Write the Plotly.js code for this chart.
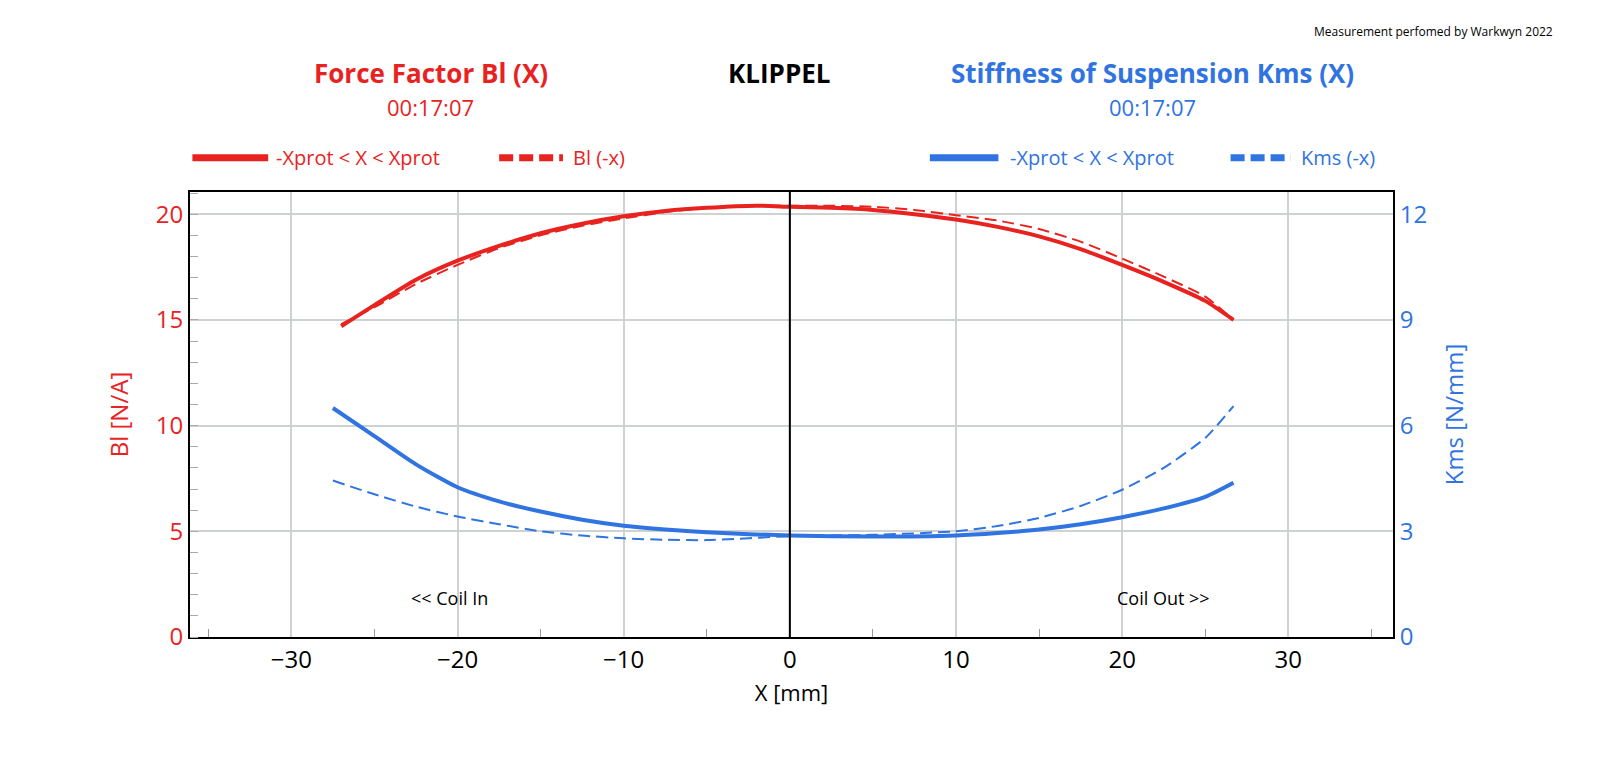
<!DOCTYPE html>
<html><head><meta charset="utf-8">
<script src="https://cdn.plot.ly/plotly-3.0.1.min.js"></script>
<style>body{margin:0;background:#fff}#chart{width:1600px;height:779px}</style>
</head><body><div id="chart"></div>
<script>
// Bl(x), N/A
var blX = [-27, -25, -22.5, -20, -17.5, -15, -12.5, -10, -7.5, -5, -2, 0, 2.5, 5, 7.5, 10, 12.5, 15, 17.5, 20, 22.5, 25, 26.7];
var blSolid = [14.7, 15.7, 16.9, 17.8, 18.5, 19.1, 19.55, 19.9, 20.15, 20.3, 20.4, 20.35, 20.3, 20.2, 20.0, 19.75, 19.4, 18.95, 18.35, 17.6, 16.8, 15.9, 15.0];
var blDash = [14.8, 15.6, 16.7, 17.6, 18.4, 19.0, 19.45, 19.8, 20.1, 20.3, 20.4, 20.4, 20.4, 20.35, 20.2, 19.95, 19.7, 19.3, 18.7, 17.9, 17.05, 16.1, 15.0];
// Kms(x), N/mm
var kmsX = [-27.5, -25, -22.5, -20, -17.5, -15, -12.5, -10, -7.5, -5, 0, 5, 10, 12.5, 15, 17.5, 20, 22.5, 25, 26.7];
var kmsSolid = [6.5, 5.7, 4.9, 4.25, 3.85, 3.56, 3.33, 3.16, 3.05, 2.97, 2.88, 2.85, 2.88, 2.95, 3.05, 3.2, 3.4, 3.65, 3.98, 4.38];
var kmsDash = [4.44, 4.05, 3.7, 3.42, 3.2, 3.0, 2.88, 2.8, 2.76, 2.75, 2.86, 2.9, 3.0, 3.15, 3.38, 3.72, 4.18, 4.8, 5.65, 6.55];

var red = '#e8231f', blue = '#2f74e0';
var data = [
  {x: blX, y: blSolid, mode: 'lines', line: {color: red, width: 4, shape: 'spline', smoothing: 0.6}},
  {x: blX, y: blDash, mode: 'lines', line: {color: red, width: 2, dash: '12px,6px', shape: 'spline', smoothing: 0.6}},
  {x: kmsX, y: kmsSolid, yaxis: 'y2', mode: 'lines', line: {color: blue, width: 4, shape: 'spline', smoothing: 0.6}},
  {x: kmsX, y: kmsDash, yaxis: 'y2', mode: 'lines', line: {color: blue, width: 2, dash: '12px,6px', shape: 'spline', smoothing: 0.6}}
];
var f = 'Open Sans, sans-serif';
function note(x, y, text, size, color, anchor) {
  return {xref: 'paper', yref: 'paper', x: x, y: y, xanchor: anchor || 'center', yanchor: 'middle',
    text: text, showarrow: false, font: {size: size, color: color}};
}
var layout = {
  width: 1600, height: 779, showlegend: false,
  paper_bgcolor: '#fff', plot_bgcolor: '#fff',
  margin: {l: 190, r: 207, t: 192, b: 142},
  font: {family: f},
  xaxis: {range: [-36.1, 36.3], tickvals: [-30, -20, -10, 0, 10, 20, 30], showgrid: true, gridcolor: '#cfd2d2', gridwidth: 2,
    zeroline: false, showline: true, linecolor: '#000', linewidth: 2, mirror: true, ticks: '', tickfont: {size: 24, color: '#000'},
    minor: {tickvals: [-35, -25, -15, -5, 5, 15, 25, 35], ticks: 'inside', ticklen: 8, tickcolor: '#999', showgrid: false},
    title: {text: 'X [mm]', font: {size: 22, color: '#000'}, standoff: 12}},
  yaxis: {range: [0, 21.05], tickvals: [0, 5, 10, 15, 20], showgrid: true, gridcolor: '#cfd2d2', gridwidth: 2, zeroline: false,
    showline: true, linecolor: '#000', linewidth: 2, ticks: '', tickfont: {size: 24, color: red},
    minor: {dtick: 1, ticks: 'inside', ticklen: 8, tickcolor: '#aaa', showgrid: false},
    title: {text: 'Bl [N/A]', font: {size: 24, color: red}, standoff: 20}},
  yaxis2: {overlaying: 'y', side: 'right', range: [0, 12.63], tickvals: [0, 3, 6, 9, 12], showgrid: false, zeroline: false,
    showline: true, linecolor: '#000', linewidth: 2, ticks: '', tickfont: {size: 24, color: blue},
    title: {text: 'Kms [N/mm]', font: {size: 24, color: blue}, standoff: 20}},
  shapes: [
    {type: 'line', xref: 'x', yref: 'paper', x0: 0, x1: 0, y0: 0, y1: 1, line: {color: '#000', width: 2}},
    {type: 'line', xref: 'paper', yref: 'paper', x0: 0.002, x1: 0.065, y0: 1.077, y1: 1.077, line: {color: red, width: 7}},
    {type: 'line', xref: 'paper', yref: 'paper', x0: 0.257, x1: 0.31, y0: 1.077, y1: 1.077, line: {color: red, width: 7, dash: '14px,6px'}},
    {type: 'line', xref: 'paper', yref: 'paper', x0: 0.615, x1: 0.672, y0: 1.077, y1: 1.077, line: {color: blue, width: 7}},
    {type: 'line', xref: 'paper', yref: 'paper', x0: 0.865, x1: 0.915, y0: 1.077, y1: 1.077, line: {color: blue, width: 7, dash: '14px,6px'}}
  ],
  annotations: [
    note(0.07, 1.077, '-Xprot &lt; X &lt; Xprot', 20, red, 'left'),
    note(0.317, 1.077, 'Bl (-x)', 20, red, 'left'),
    note(0.68, 1.077, '-Xprot &lt; X &lt; Xprot', 20, blue, 'left'),
    note(0.922, 1.077, 'Kms (-x)', 20, blue, 'left'),
    note(0.2, 1.267, '<b>Force Factor Bl (X)</b>', 26, red),
    note(0.2, 1.19, '00:17:07', 22, red),
    note(0.49, 1.267, '<b>KLIPPEL</b>', 26, '#000'),
    note(0.8, 1.267, '<b>Stiffness of Suspension Kms (X)</b>', 26, blue),
    note(0.8, 1.19, '00:17:07', 22, blue),
    note(1.135, 1.36, 'Measurement perfomed by Warkwyn 2022', 12, '#000', 'right'),
    {xref: 'x', yref: 'y', x: -20.5, y: 1.85, yanchor: 'middle', text: '&lt;&lt; Coil In', showarrow: false, font: {size: 18, color: '#000'}},
    {xref: 'x', yref: 'y', x: 22.5, y: 1.85, yanchor: 'middle', text: 'Coil Out &gt;&gt;', showarrow: false, font: {size: 18, color: '#000'}}
  ]
};
Plotly.newPlot('chart', data, layout, {displayModeBar: false});
</script></body></html>
